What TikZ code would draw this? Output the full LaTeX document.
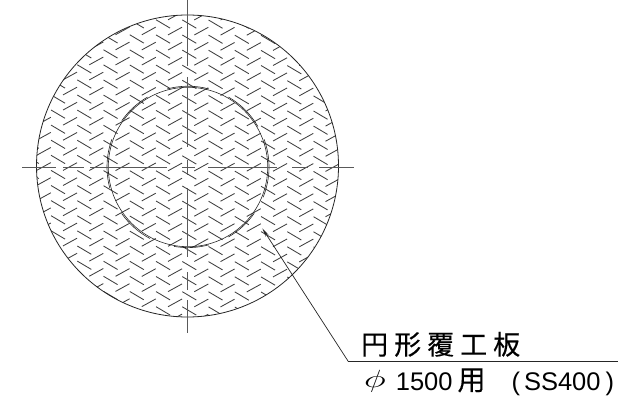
\documentclass[tikz,border=0pt]{standalone}
\usetikzlibrary{arrows.meta}
\usepackage{graphicx}
\usepackage{fontspec}
\setmainfont{Liberation Sans}
\newfontfamily\cjk[FakeBold=0.4]{Noto Sans CJK JP}
\begin{document}
\begin{tikzpicture}[x=1pt,y=-1pt,
  hatchline/.style={line width=0.85pt,black!75},
  outline/.style={line width=0.8pt,black!85},
  innerarc/.style={line width=0.6pt,black!85},
  axisline/.style={line width=0.8pt,black!65},
  leader/.style={line width=0.7pt,black!85},
  lbl/.style={inner sep=0pt,anchor=base west}]
\useasboundingbox (0,0) rectangle (618,409);
\fill[white] (0,0) rectangle (618,409);
\begin{scope}
\clip (187.5,166) circle (151);
\foreach \i in {-2,...,11}{
  \foreach \k in {-8,...,16}{
    \pgfmathsetmacro{\px}{77.3+26.25*\i}
    \pgfmathsetmacro{\py}{95+0.1*\i+15.1*\k}
    \draw[hatchline] (\px,\py) -- ++(14,8.3);
    \draw[hatchline] (\px+12,\py) -- ++(14,-7.7);
  }
}
\end{scope}
\coordinate (cc) at (187.5,166);
\draw[outline] (cc) circle (151);
\draw[innerarc] (188,167) circle (79.7);
\foreach \a/\b/\r in {-20/22/81,35/60/80.8,75/100/80.6,118/145/81,165/200/81,215/240/80.8,255/285/80.8,300/330/80.8}{
  \draw[innerarc] ({188+\r*cos(\a)},{167+\r*sin(\a)}) arc[start angle=\a,end angle=\b,radius=\r];
}
\draw[axisline] (187.7,0) -- (187.7,66) (187.7,77) -- (187.7,147) (187.7,160) -- (187.7,175) (187.7,188) -- (187.7,257) (187.7,272) -- (187.7,290) (187.7,300) -- (187.7,333);
\draw[axisline] (22,167.3) -- (56,167.3) (63,167.3) -- (84,167.3) (90,167.3) -- (167,167.3) (182,167.3) -- (195,167.3) (208,167.3) -- (277,167.3) (292,167.3) -- (308,167.3) (319,167.3) -- (354,167.3);
\coordinate (tip) at (262.3,228.3);
\coordinate (elbow) at (348.3,361.5);
\coordinate (end) at (618,361.5);
\draw[leader,-{Stealth[length=9pt,width=3.4pt]}] (elbow) -- (tip);
\draw[leader] (elbow) -- (end);
\node[lbl] (t1) at (361,354.5) {\cjk\fontsize{27}{27}\selectfont 円\hspace{6pt}形\hspace{6pt}覆\hspace{6pt}工\hspace{6pt}板};
\node[lbl] (t2) at (364,390) {\raisebox{2.5pt}{\fontsize{30}{30}\selectfont\scalebox{1.5}[1]{$\phi$}}\hspace{10pt}\fontsize{25.5}{26}\selectfont 1500\hspace{5pt}{\cjk\fontsize{28}{28}\selectfont 用}\hspace{26pt}(\hspace{4pt}SS400\hspace{5pt})};
\end{tikzpicture}
\end{document}
